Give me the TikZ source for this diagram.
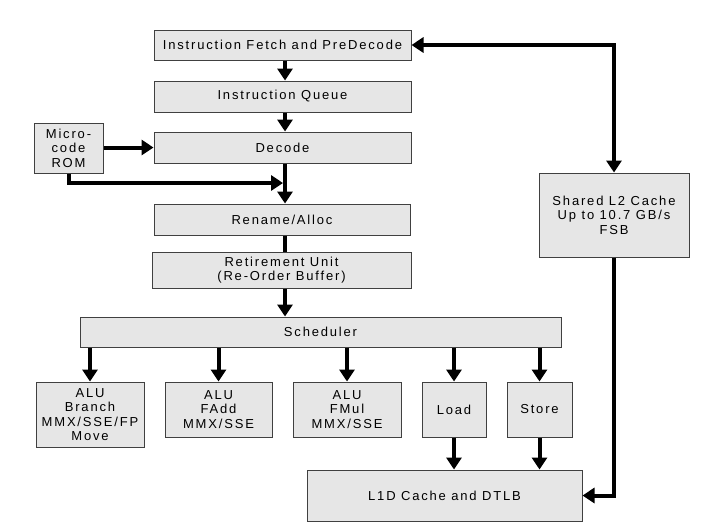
\documentclass[tikz,border=0pt]{standalone}
\usepackage{fontspec}
\setmainfont[LetterSpace=14]{Liberation Sans}
\usetikzlibrary{arrows.meta}
\definecolor{boxfill}{RGB}{230,230,230}
\definecolor{boxline}{RGB}{64,64,64}
\begin{document}
\begin{tikzpicture}[x=1pt,y=-1pt,
  box/.style={draw=boxline,line width=1pt,fill=boxfill,inner sep=0pt,align=center,
    font=\fontsize{13}{14.5}\selectfont},
  arr/.style={line width=4pt,-{Triangle[length=12pt,width=15pt]}},
  arrboth/.style={line width=4pt,{Triangle[length=12pt,width=15pt]}-{Triangle[length=12pt,width=15pt]}},
  plain/.style={line width=4pt}]
\useasboundingbox (0,0) rectangle (718,528);
\fill[white] (0,0) rectangle (718,528);
\node[box,minimum width=257pt,minimum height=30pt] (fetch) at (282.5,45) {Instruction Fetch and PreDecode};
\node[box,minimum width=257pt,minimum height=31pt] (queue) at (282.5,96.5) {Instruction Queue};
\node[box,minimum width=257pt,minimum height=31pt] (decode) at (282.5,147.5) {Decode};
\node[box,minimum width=69pt,minimum height=50pt] (rom) at (68.5,148) {Micro-\\code\\ROM};
\node[box,minimum width=256pt,minimum height=31pt] (rename) at (282,219.5) {Rename/Alloc};
\node[box,minimum width=259pt,minimum height=36pt] (retire) at (281.5,270) {Retirement Unit\\(Re-Order Buffer)};
\node[box,minimum width=481pt,minimum height=30pt] (sched) at (320.5,332) {Scheduler};
\node[box,minimum width=108pt,minimum height=65pt] (alu1) at (90,414.5) {ALU\\Branch\\MMX/SSE/FP\\Move};
\node[box,minimum width=107pt,minimum height=55pt] (alu2) at (218.5,409.5) {ALU\\FAdd\\MMX/SSE};
\node[box,minimum width=108pt,minimum height=55pt] (alu3) at (347,409.5) {ALU\\FMul\\MMX/SSE};
\node[box,minimum width=64pt,minimum height=55pt] (load) at (454,409.5) {Load};
\node[box,minimum width=65pt,minimum height=55pt] (store) at (539.5,409.5) {Store};
\node[box,minimum width=275pt,minimum height=51pt] (l1d) at (444.5,495.5) {L1D Cache and DTLB};
\node[box,minimum width=150pt,minimum height=84pt] (l2) at (614,215) {Shared L2 Cache\\Up to 10.7 GB/s\\FSB};
\coordinate (col) at (285,0);
\coordinate (join) at (283,183);
\draw[arr] (fetch.south -| col) -- (queue.north -| col);
\draw[arr] (queue.south -| col) -- (decode.north -| col);
\draw[arr] (decode.south -| col) -- (rename.north -| col);
\draw[arr] (rom.east |- decode.west) -- (decode.west);
\draw[arr] (rom.south) |- (join);
\draw[plain] (rename.south -| col) -- (retire.north -| col);
\draw[arr] (retire.south -| col) -- (sched.north -| col);
\foreach \u in {alu1,alu2,alu3,load,store}
  \draw[arr] (sched.south -| \u.north) -- (\u.north);
\draw[arr] (load.south) -- (l1d.north -| load.south);
\draw[arr] (store.south) -- (l1d.north -| store.south);
\draw[arrboth] (fetch.east) -| (l2.north);
\draw[arr] (l2.south) |- (l1d.east);
\end{tikzpicture}
\end{document}
